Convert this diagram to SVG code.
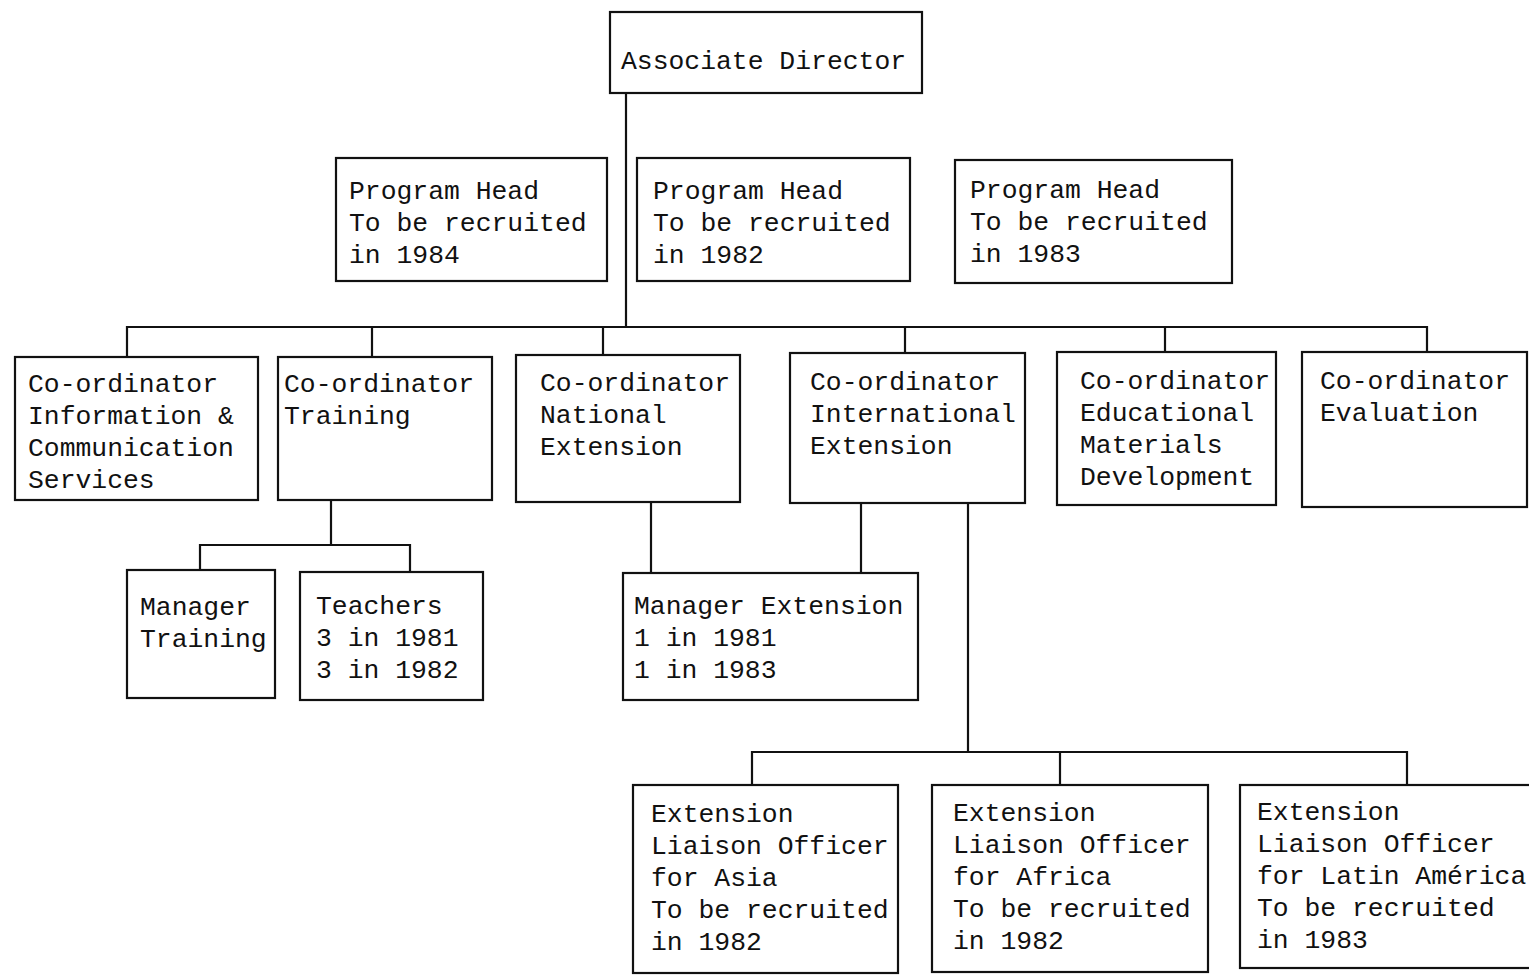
<svg xmlns="http://www.w3.org/2000/svg" width="1529" height="976" viewBox="0 0 1529 976">
<style>
.box{fill:none;stroke:#111;stroke-width:2.2}
.ln{fill:none;stroke:#111;stroke-width:2.2}
text{font-family:"Liberation Mono","Courier New",monospace;font-size:26.4px;fill:#111}
</style>
<rect width="1529" height="976" fill="#fff"/>
<g id="connectors">
<path class="ln" d="M626 93 V326"/>
<path class="ln" d="M127 357 V327 H1427 V352"/>
<path class="ln" d="M372 327 V357"/>
<path class="ln" d="M603 327 V355"/>
<path class="ln" d="M905 327 V353"/>
<path class="ln" d="M1165 327 V352"/>
<path class="ln" d="M331 500 V545"/>
<path class="ln" d="M200 570 V545 H410 V572"/>
<path class="ln" d="M651 502 V573"/>
<path class="ln" d="M861 503 V573"/>
<path class="ln" d="M968 503 V752"/>
<path class="ln" d="M752 785 V752 H1407 V785"/>
<path class="ln" d="M1060 752 V785"/>
</g>
<g id="associate-director">
<rect class="box" x="610" y="12" width="312" height="81"/>
<text x="621" y="69">Associate Director</text>
</g>
<g id="program-head-1984">
<rect class="box" x="336" y="158" width="271" height="123"/>
<text x="349" y="199">Program Head</text>
<text x="349" y="231">To be recruited</text>
<text x="349" y="263">in 1984</text>
</g>
<g id="program-head-1982">
<rect class="box" x="637" y="158" width="273" height="123"/>
<text x="653" y="199">Program Head</text>
<text x="653" y="231">To be recruited</text>
<text x="653" y="263">in 1982</text>
</g>
<g id="program-head-1983">
<rect class="box" x="955" y="160" width="277" height="123"/>
<text x="970" y="198">Program Head</text>
<text x="970" y="230">To be recruited</text>
<text x="970" y="262">in 1983</text>
</g>
<g id="coord-info">
<rect class="box" x="15" y="357" width="243" height="143"/>
<text x="28" y="392">Co-ordinator</text>
<text x="28" y="424">Information &amp;</text>
<text x="28" y="456">Communication</text>
<text x="28" y="488">Services</text>
</g>
<g id="coord-training">
<rect class="box" x="278" y="357" width="214" height="143"/>
<text x="284" y="392">Co-ordinator</text>
<text x="284" y="424">Training</text>
</g>
<g id="coord-national">
<rect class="box" x="516" y="355" width="224" height="147"/>
<text x="540" y="391">Co-ordinator</text>
<text x="540" y="423">National</text>
<text x="540" y="455">Extension</text>
</g>
<g id="coord-international">
<rect class="box" x="790" y="353" width="235" height="150"/>
<text x="810" y="390">Co-ordinator</text>
<text x="810" y="422">International</text>
<text x="810" y="454">Extension</text>
</g>
<g id="coord-educational">
<rect class="box" x="1057" y="352" width="219" height="153"/>
<text x="1080" y="389">Co-ordinator</text>
<text x="1080" y="421">Educational</text>
<text x="1080" y="453">Materials</text>
<text x="1080" y="485">Development</text>
</g>
<g id="coord-evaluation">
<rect class="box" x="1302" y="352" width="225" height="155"/>
<text x="1320" y="389">Co-ordinator</text>
<text x="1320" y="421">Evaluation</text>
</g>
<g id="manager-training">
<rect class="box" x="127" y="570" width="148" height="128"/>
<text x="140" y="615">Manager</text>
<text x="140" y="647">Training</text>
</g>
<g id="teachers">
<rect class="box" x="300" y="572" width="183" height="128"/>
<text x="316" y="614">Teachers</text>
<text x="316" y="646">3 in 1981</text>
<text x="316" y="678">3 in 1982</text>
</g>
<g id="manager-extension">
<rect class="box" x="623" y="573" width="295" height="127"/>
<text x="634" y="614">Manager Extension</text>
<text x="634" y="646">1 in 1981</text>
<text x="634" y="678">1 in 1983</text>
</g>
<g id="liaison-asia">
<rect class="box" x="633" y="785" width="265" height="188"/>
<text x="651" y="822">Extension</text>
<text x="651" y="854">Liaison Officer</text>
<text x="651" y="886">for Asia</text>
<text x="651" y="918">To be recruited</text>
<text x="651" y="950">in 1982</text>
</g>
<g id="liaison-africa">
<rect class="box" x="932" y="785" width="276" height="187"/>
<text x="953" y="821">Extension</text>
<text x="953" y="853">Liaison Officer</text>
<text x="953" y="885">for Africa</text>
<text x="953" y="917">To be recruited</text>
<text x="953" y="949">in 1982</text>
</g>
<g id="liaison-latin-america">
<rect class="box" x="1240" y="785" width="292" height="183"/>
<text x="1257" y="820">Extension</text>
<text x="1257" y="852">Liaison Officer</text>
<text x="1257" y="884">for Latin América</text>
<text x="1257" y="916">To be recruited</text>
<text x="1257" y="948">in 1983</text>
</g>
</svg>
